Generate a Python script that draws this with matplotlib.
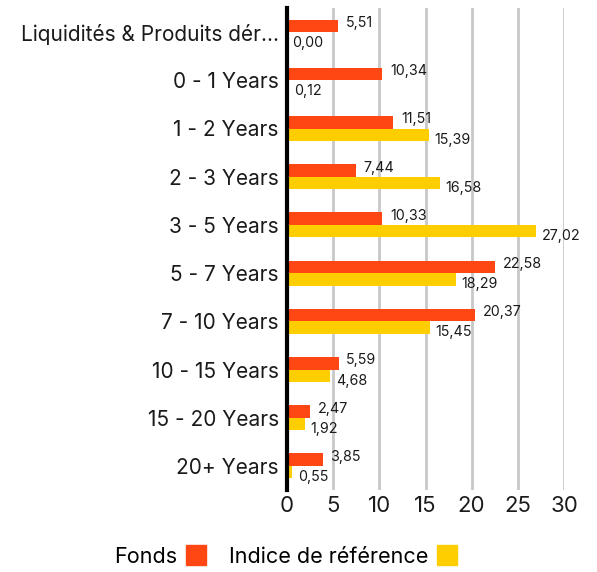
import numpy as np
import matplotlib.pyplot as plt
from matplotlib.lines import Line2D

categories = ["Liquidités & Produits dér...", "0 - 1 Years", "1 - 2 Years", "2 - 3 Years",
              "3 - 5 Years", "5 - 7 Years", "7 - 10 Years", "10 - 15 Years",
              "15 - 20 Years", "20+ Years"]
fonds = [5.51, 10.34, 11.51, 7.44, 10.33, 22.58, 20.37, 5.59, 2.47, 3.85]
indice = [0.00, 0.12, 15.39, 16.58, 27.02, 18.29, 15.45, 4.68, 1.92, 0.55]

ORANGE = "#FF4713"
YELLOW = "#FFCE00"

plt.rcParams['font.family'] = ['Inter', 'DejaVu Sans']

fig = plt.figure(figsize=(5.97, 5.72), dpi=100)
ax = fig.add_axes([287 / 597, 1 - 490 / 572, (564 - 287) / 597, (490 - 8) / 572])

y = np.arange(len(categories))
h = 0.26
ax.barh(y - h / 2, fonds, height=h, color=ORANGE, zorder=3)
ax.barh(y + h / 2, indice, height=h, color=YELLOW, zorder=3)

for yi, v in zip(y, fonds):
    ax.annotate(f"{v:.2f}".replace(".", ","), (v, yi - h / 2), xytext=(5.5, 2),
                textcoords="offset points", va="center", ha="left", fontsize=10.3,
                color="#1a1a1a")
for yi, v in zip(y, indice):
    ax.annotate(f"{v:.2f}".replace(".", ","), (v, yi + h / 2), xytext=(4, -3.5),
                textcoords="offset points", va="center", ha="left", fontsize=10.3,
                color="#1a1a1a")

ax.set_xlim(0, 30)
ax.set_ylim(len(categories) - 0.5, -0.5)
ax.set_xticks(range(0, 31, 5))
ax.set_yticks(y)
ax.set_yticklabels(categories)
ax.tick_params(axis="both", length=0, colors="#1a1a1a")
ax.tick_params(axis="y", pad=6, labelsize=15)
ax.tick_params(axis="x", pad=4, labelsize=16)
ax.grid(axis="x", color="#c8c8c8", linewidth=2, zorder=0)
for s in ["top", "right", "bottom"]:
    ax.spines[s].set_visible(False)
ax.spines["left"].set_linewidth(3)
ax.spines["left"].set_color("black")
ax.spines["left"].set_zorder(4)

handles = [Line2D([], [], marker="s", linestyle="none", markersize=14.5,
                  markerfacecolor=ORANGE, markeredgecolor=ORANGE),
           Line2D([], [], marker="s", linestyle="none", markersize=14.5,
                  markerfacecolor=YELLOW, markeredgecolor=YELLOW)]
fig.legend(handles, ["Fonds", "Indice de référence"], loc="center",
           bbox_to_anchor=(286 / 597, 1 - 557 / 572), ncol=2, frameon=False,
           markerfirst=False, fontsize=15.5, handlelength=1.0, handletextpad=0.4,
           columnspacing=1.0)

fig.savefig("out.png", dpi=100)
